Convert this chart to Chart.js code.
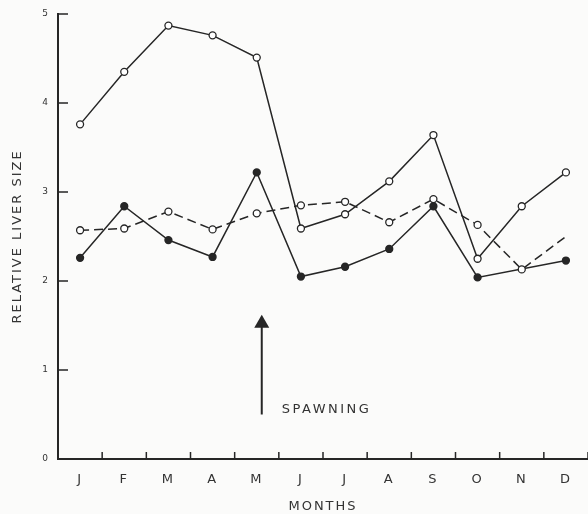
<!DOCTYPE html>
<html>
<head>
<meta charset="utf-8">
<title>Relative liver size</title>
<script src="https://cdn.jsdelivr.net/npm/chart.js@4.4.1/dist/chart.umd.min.js"></script>
<style>
  html, body { margin: 0; padding: 0; background: #fbfbfa; }
  #wrap { width: 588px; height: 514px; }
</style>
</head>
<body>
<div id="wrap"><canvas id="liverChart" width="588" height="514"></canvas></div>
<script>
// Données
const months = ['J', 'F', 'M', 'A', 'M', 'J', 'J', 'A', 'S', 'O', 'N', 'D'];
const yTicks = [0, 1, 2, 3, 4, 5];
const openSeries = [3.76, 4.35, 4.87, 4.76, 4.51, 2.59, 2.75, 3.12, 3.64, 2.25, 2.84, 3.22];
const filledSeries = [2.26, 2.84, 2.46, 2.27, 3.22, 2.05, 2.16, 2.36, 2.84, 2.04, null, 2.23];
const dashedSeries = [2.57, 2.59, 2.78, 2.58, 2.76, 2.85, 2.89, 2.66, 2.92, 2.63, 2.13, 2.50];

// Flèche "SPAWNING" (mois de mai, en unités de l'axe y)
const spawningIndex = 4;
const spawningArrow = [0.5, 1.62];
const spawningLabel = 'SPAWNING';

const ink = '#262626';
const font = 'DejaVu Sans';

// Graduations vers l'intérieur, flèche et texte
const extras = {
  id: 'extras',
  beforeDraw(chart) {
    chart.ctx.letterSpacing = '2px';
  },
  afterDraw(chart) {
    const { ctx, scales: { x, y } } = chart;
    const step = x.getPixelForValue(1) - x.getPixelForValue(0);
    ctx.save();
    ctx.strokeStyle = ink;
    ctx.lineWidth = 1.5;
    ctx.beginPath();
    yTicks.slice(1).forEach(v => {
      const py = y.getPixelForValue(v);
      ctx.moveTo(x.left, py);
      ctx.lineTo(x.left + 10, py);
    });
    months.forEach((m, i) => {
      const px = x.getPixelForValue(i) + step / 2;
      ctx.moveTo(px, y.bottom);
      ctx.lineTo(px, y.bottom - 7);
    });
    ctx.stroke();

    // flèche
    const ax = x.getPixelForValue(spawningIndex) + 5;
    const yBottom = y.getPixelForValue(spawningArrow[0]);
    const yTip = y.getPixelForValue(spawningArrow[1]);
    ctx.lineWidth = 2;
    ctx.beginPath();
    ctx.moveTo(ax, yBottom);
    ctx.lineTo(ax, yTip + 10);
    ctx.stroke();
    ctx.fillStyle = ink;
    ctx.beginPath();
    ctx.moveTo(ax, yTip);
    ctx.lineTo(ax - 7.5, yTip + 13);
    ctx.lineTo(ax + 7.5, yTip + 13);
    ctx.closePath();
    ctx.fill();

    ctx.font = '13px "' + font + '"';
    ctx.letterSpacing = '2.5px';
    ctx.textAlign = 'left';
    ctx.textBaseline = 'middle';
    ctx.fillStyle = '#333';
    ctx.fillText(spawningLabel, ax + 20, y.getPixelForValue(0.55));
    ctx.restore();
  }
};

new Chart(document.getElementById('liverChart'), {
  type: 'line',
  data: {
    labels: months,
    datasets: [
      {
        data: openSeries,
        borderColor: ink,
        borderWidth: 1.5,
        pointRadius: 3.5,
        pointBorderWidth: 1.3,
        pointBackgroundColor: '#ffffff',
        pointBorderColor: ink,
        tension: 0
      },
      {
        data: dashedSeries,
        borderColor: ink,
        borderWidth: 1.5,
        borderDash: [9, 5],
        pointRadius: dashedSeries.map((v, i) => i === dashedSeries.length - 1 ? 0 : 3.5),
        pointBorderWidth: 1.3,
        pointBackgroundColor: '#ffffff',
        pointBorderColor: ink,
        tension: 0
      },
      {
        data: filledSeries,
        spanGaps: true,
        borderColor: ink,
        borderWidth: 1.5,
        pointRadius: 3.4,
        pointBackgroundColor: ink,
        pointBorderColor: ink,
        tension: 0
      }
    ]
  },
  options: {
    responsive: false,
    animation: false,
    layout: { autoPadding: false, padding: { top: 14, right: 0, left: 0, bottom: 0 } },
    plugins: {
      legend: { display: false },
      tooltip: { enabled: false }
    },
    scales: {
      x: {
        offset: true,
        grid: { display: false, drawTicks: false, offset: true },
        border: { display: true, color: ink, width: 2 },
        ticks: {
          padding: 13,
          color: '#333',
          font: { family: font, size: 13 }
        },
        title: {
          display: true,
          text: 'MONTHS',
          color: '#333',
          padding: { top: 0, bottom: 0 },
          font: { family: font, size: 13 }
        },
        afterFit(scale) {
          scale.height = 55;
          scale.paddingLeft = 0;
          scale.paddingRight = 0;
        }
      },
      y: {
        min: 0,
        max: 5,
        afterBuildTicks(scale) { scale.ticks = yTicks.map(v => ({ value: v })); },
        grid: { display: false, drawTicks: false },
        border: { display: true, color: ink, width: 2 },
        ticks: {
          padding: 8,
          color: '#333',
          font: { family: font, size: 9 }
        },
        title: {
          display: true,
          text: 'RELATIVE LIVER SIZE',
          color: '#333',
          padding: { top: 10, bottom: 0 },
          font: { family: font, size: 13 }
        },
        afterFit(scale) { scale.width = 58; }
      }
    }
  },
  plugins: [extras]
});
</script>
</body>
</html>
